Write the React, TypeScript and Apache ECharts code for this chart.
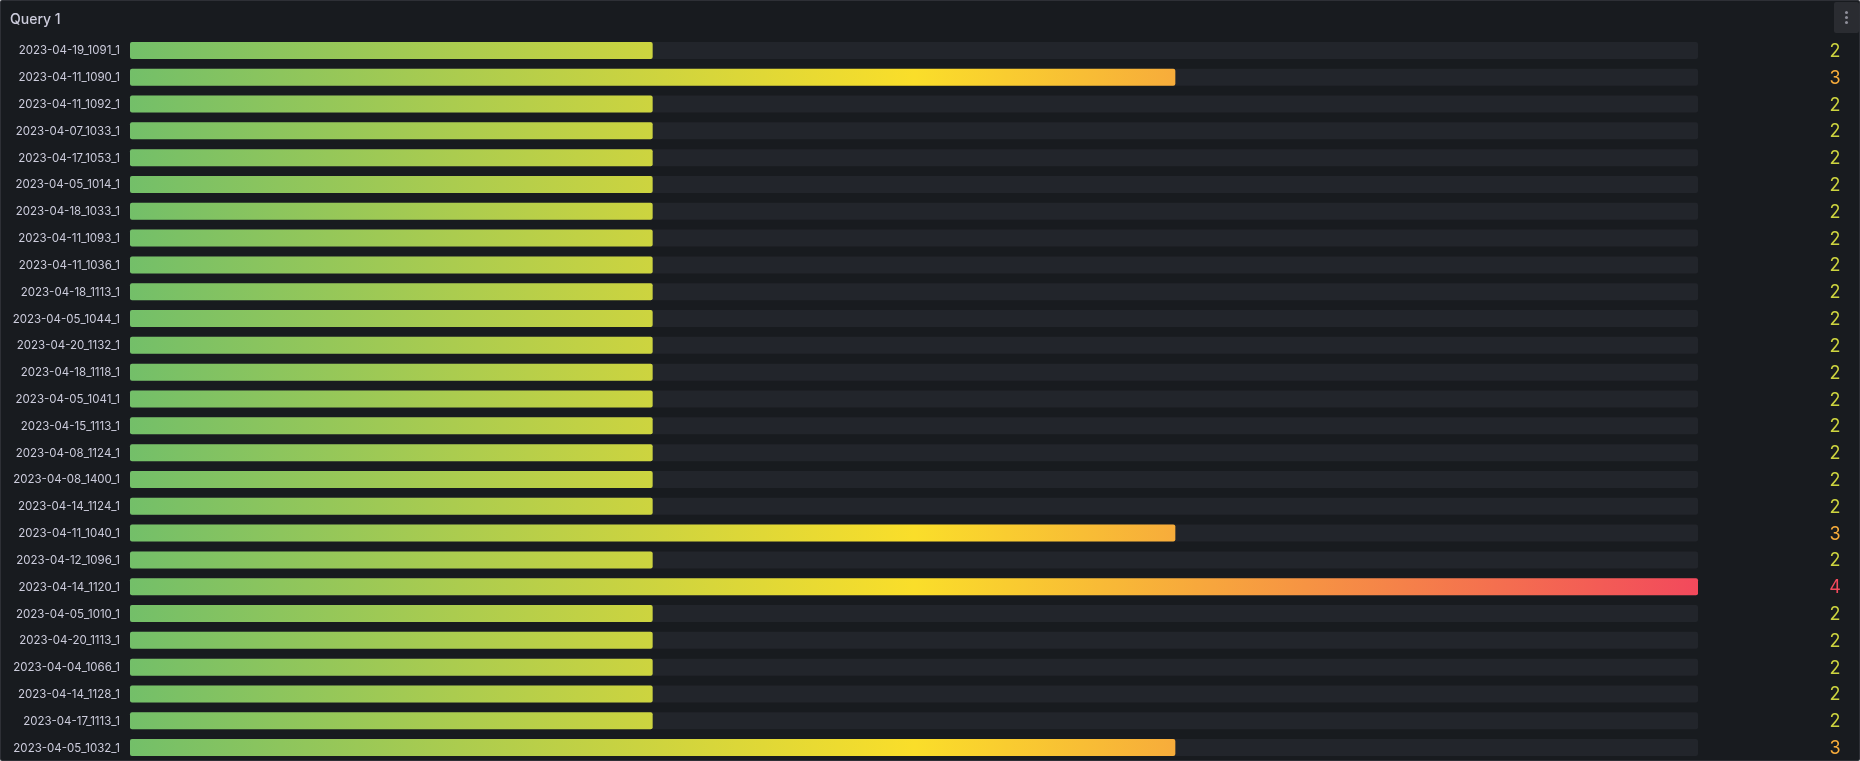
import React, { useEffect, useRef } from "react";
import * as echarts from "echarts";

const TITLE = "Query 1";

const categories = [
  "2023-04-19_1091_1",
  "2023-04-11_1090_1",
  "2023-04-11_1092_1",
  "2023-04-07_1033_1",
  "2023-04-17_1053_1",
  "2023-04-05_1014_1",
  "2023-04-18_1033_1",
  "2023-04-11_1093_1",
  "2023-04-11_1036_1",
  "2023-04-18_1113_1",
  "2023-04-05_1044_1",
  "2023-04-20_1132_1",
  "2023-04-18_1118_1",
  "2023-04-05_1041_1",
  "2023-04-15_1113_1",
  "2023-04-08_1124_1",
  "2023-04-08_1400_1",
  "2023-04-14_1124_1",
  "2023-04-11_1040_1",
  "2023-04-12_1096_1",
  "2023-04-14_1120_1",
  "2023-04-05_1010_1",
  "2023-04-20_1113_1",
  "2023-04-04_1066_1",
  "2023-04-14_1128_1",
  "2023-04-17_1113_1",
  "2023-04-05_1032_1",
];

const values = [2, 3, 2, 2, 2, 2, 2, 2, 2, 2, 2, 2, 2, 2, 2, 2, 2, 2, 3, 2, 4, 2, 2, 2, 2, 2, 3];

const AXIS_MIN = 1;
const AXIS_MAX = 4;

// continuous green-yellow-red scheme
const schemeStops: [number, string][] = [
  [0, "#73BF69"],
  [0.5, "#FADE2A"],
  [1, "#F2495C"],
];

const PANEL_BG = "#181b1f";
const TRACK = "#22252b";
const TEXT = "#ccccdc";
const FONT = "Inter, 'Noto Sans', sans-serif";

const hexToRgb = (h: string) => [
  parseInt(h.slice(1, 3), 16),
  parseInt(h.slice(3, 5), 16),
  parseInt(h.slice(5, 7), 16),
];

const schemeColor = (t: number) => {
  const f = Math.max(0, Math.min(1, t));
  for (let i = 1; i < schemeStops.length; i++) {
    const [o1, c1] = schemeStops[i - 1];
    const [o2, c2] = schemeStops[i];
    if (f <= o2) {
      const k = (f - o1) / (o2 - o1);
      const a = hexToRgb(c1);
      const b = hexToRgb(c2);
      const rgb = a.map((v, j) => Math.round(v + (b[j] - v) * k));
      return `rgb(${rgb[0]},${rgb[1]},${rgb[2]})`;
    }
  }
  return schemeStops[schemeStops.length - 1][1];
};

const frac = (v: number) => (v - AXIS_MIN) / (AXIS_MAX - AXIS_MIN);

// gradient showing the part of the scheme a bar covers
const barGradient = (v: number) => {
  const f = frac(v);
  const stops = [{ offset: 0, color: schemeColor(0) }];
  schemeStops.forEach(([o]) => {
    if (o > 0 && o < f) stops.push({ offset: o / f, color: schemeColor(o) });
  });
  stops.push({ offset: 1, color: schemeColor(f) });
  return new echarts.graphic.LinearGradient(0, 0, 1, 0, stops);
};

const App: React.FC = () => {
  const chartRef = useRef<HTMLDivElement>(null);

  useEffect(() => {
    if (!chartRef.current) return;
    const chart = echarts.init(chartRef.current, null, { renderer: "svg" });

    const option: echarts.EChartsOption = {
      animation: false,
      backgroundColor: "transparent",
      title: {
        text: TITLE,
        left: 10,
        top: 11,
        padding: 0,
        textStyle: { color: TEXT, fontSize: 14, fontWeight: 500, fontFamily: FONT },
      },
      grid: { left: 130, right: 162, top: 37, height: 725 },
      xAxis: {
        type: "value",
        min: AXIS_MIN,
        max: AXIS_MAX,
        show: false,
      },
      yAxis: [
        {
          type: "category",
          data: categories,
          inverse: true,
          axisLine: { show: false },
          axisTick: { show: false },
          axisLabel: { color: TEXT, fontSize: 11.5, fontFamily: FONT, margin: 10 },
        },
        {
          type: "category",
          data: categories,
          inverse: true,
          position: "right",
          axisLine: { show: false },
          axisTick: { show: false },
          axisLabel: {
            fontSize: 18,
            fontFamily: FONT,
            margin: 137,
            align: "center",
            formatter: (_: string, i: number) => String(values[i]),
            color: ((_: string, i: number) => schemeColor(frac(values[i]))) as any,
          },
        },
      ],
      series: [
        {
          type: "bar",
          barWidth: 17,
          showBackground: true,
          backgroundStyle: { color: TRACK, borderRadius: 2 },
          data: values.map((v) => ({
            value: v,
            itemStyle: { color: barGradient(v), borderRadius: 2 },
          })),
        },
      ],
    };

    chart.setOption(option);
    return () => chart.dispose();
  }, []);

  return (
    <div
      style={{
        position: "fixed",
        left: 0,
        top: 0,
        width: 1860,
        height: 761,
        background: PANEL_BG,
        boxSizing: "border-box",
        border: "1px solid rgba(204,204,220,0.12)",
        borderRadius: 2,
        overflow: "hidden",
      }}
    >
      <div ref={chartRef} style={{ position: "absolute", left: -1, top: -1, width: 1860, height: 761 }} />
      <div
        style={{
          position: "absolute",
          right: 0,
          top: 1,
          width: 25,
          height: 31,
          background: "#2a2c31",
          borderRadius: 2,
          display: "flex",
          flexDirection: "column",
          alignItems: "center",
          justifyContent: "center",
          gap: 2,
        }}
      >
        {[0, 1, 2].map((i) => (
          <div key={i} style={{ width: 3, height: 3, borderRadius: 2, background: "#8e8e99" }} />
        ))}
      </div>
    </div>
  );
};

export default App;
